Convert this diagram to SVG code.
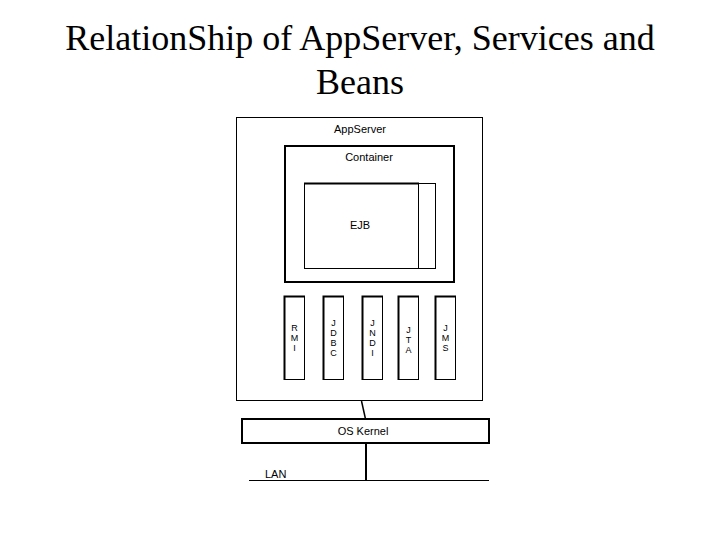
<svg xmlns="http://www.w3.org/2000/svg" width="720" height="540" viewBox="0 0 720 540">
<style>
.title{font-family:"Liberation Serif","Times New Roman",serif;font-size:36px;fill:#000;text-anchor:middle}
.lbl{font-family:"Liberation Sans",Arial,sans-serif;font-size:11px;fill:#000;text-anchor:middle}
.sm{font-family:"Liberation Sans",Arial,sans-serif;font-size:9px;fill:#000;text-anchor:middle}
.box{fill:#fff;stroke:#000;stroke-width:1}
.thick{fill:#fff;stroke:#000;stroke-width:2}
.ln{stroke:#000;stroke-width:1;fill:none}
</style>
<rect width="720" height="540" fill="#fff"/>
<text class="title" x="360" y="50">RelationShip of AppServer, Services and</text>
<text class="title" x="360" y="94">Beans</text>
<g id="appserver">
<rect class="box" x="236.5" y="117.5" width="246" height="283"/>
<text class="lbl" x="360" y="133">AppServer</text>
</g>
<g id="container">
<rect class="thick" x="285" y="146" width="169" height="136"/>
<text class="lbl" x="369" y="161">Container</text>
</g>
<g id="ejb">
<rect class="box" x="418.5" y="183.5" width="17" height="85"/>
<rect class="box" x="304.5" y="183.5" width="114" height="85"/>
<line class="ln" x1="304" y1="183.5" x2="419" y2="183.5" style="stroke-width:2"/>
<text class="lbl" x="360" y="229">EJB</text>
</g>
<g id="rmi">
<rect class="box" x="284.5" y="296.5" width="20" height="83"/>
<path class="ln" d="M284.5,380 V296.5 H305" style="stroke-width:2"/>
<text class="sm" x="294.5" y="331">R</text>
<text class="sm" x="294.5" y="341">M</text>
<text class="sm" x="294.5" y="351">I</text>
</g>
<g id="jdbc">
<rect class="box" x="323.5" y="296.5" width="20" height="83"/>
<path class="ln" d="M323.5,380 V296.5 H344" style="stroke-width:2"/>
<text class="sm" x="333.5" y="326">J</text>
<text class="sm" x="333.5" y="336">D</text>
<text class="sm" x="333.5" y="346">B</text>
<text class="sm" x="333.5" y="356">C</text>
</g>
<g id="jndi">
<rect class="box" x="362.5" y="296.5" width="20" height="83"/>
<path class="ln" d="M362.5,380 V296.5 H383" style="stroke-width:2"/>
<text class="sm" x="372.5" y="326">J</text>
<text class="sm" x="372.5" y="336">N</text>
<text class="sm" x="372.5" y="346">D</text>
<text class="sm" x="372.5" y="356">I</text>
</g>
<g id="jta">
<rect class="box" x="398.5" y="296.5" width="20" height="83"/>
<path class="ln" d="M398.5,380 V296.5 H419" style="stroke-width:2"/>
<text class="sm" x="408.5" y="333">J</text>
<text class="sm" x="408.5" y="343">T</text>
<text class="sm" x="408.5" y="353">A</text>
</g>
<g id="jms">
<rect class="box" x="435.5" y="296.5" width="20" height="83"/>
<path class="ln" d="M435.5,380 V296.5 H456" style="stroke-width:2"/>
<text class="sm" x="445.5" y="331">J</text>
<text class="sm" x="445.5" y="341">M</text>
<text class="sm" x="445.5" y="351">S</text>
</g>
<g id="oskernel">
<rect class="thick" x="242" y="419" width="247" height="24"/>
<text class="lbl" x="363" y="435">OS Kernel</text>
</g>
<g id="lan">
<line class="ln" x1="249" y1="480.5" x2="489" y2="480.5"/>
<text class="lbl" x="265" y="478" style="text-anchor:start">LAN</text>
</g>
<g id="connectors">
<line class="ln" x1="361.5" y1="401" x2="365.5" y2="419" style="stroke-width:1.5"/>
<line class="ln" x1="366" y1="444" x2="366" y2="481" style="stroke-width:2"/>
</g>
</svg>
